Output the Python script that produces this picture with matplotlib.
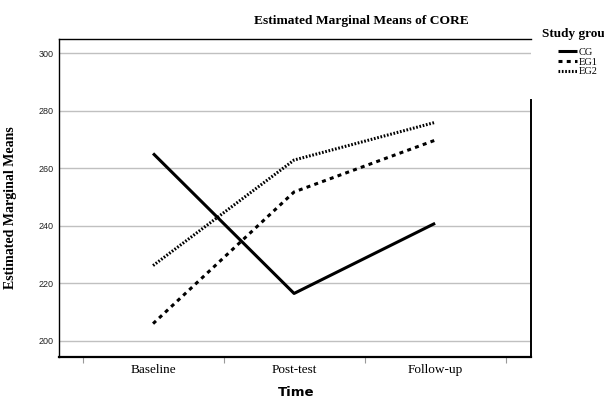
import numpy as np
import matplotlib
matplotlib.use('Agg')
import matplotlib.pyplot as plt
from matplotlib.lines import Line2D

# data
time_points = ['Baseline', 'Post-test', 'Follow-up']
cg = [265.2, 216.5, 240.9]
eg1 = [206.0, 251.8, 269.8]
eg2 = [226.2, 262.9, 276.0]
group_names = ['CG', 'EG1', 'EG2']
y_ticks = [200, 220, 240, 260, 280, 300]

serif = 'Liberation Serif'
W, H = 604, 401

fig = plt.figure(figsize=(6.04, 4.01), dpi=100)
ax = fig.add_axes([59 / W, 1 - 356.7 / H, (531 - 59) / W, (356.7 - 39) / H])

x = np.arange(len(time_points))
styles = [
    dict(linestyle='-', lw=2.2),
    dict(linestyle=(0, (1.3, 1.4)), lw=2.2),
    dict(linestyle=(0, (0.55, 0.55)), lw=2.2),
]
for vals, st in zip([cg, eg1, eg2], styles):
    ax.plot(x, vals, color='black', solid_capstyle='butt', dash_capstyle='butt', zorder=3, **st)

# axes limits and grid
ax.set_xlim(-0.667, 2.68)
ax.set_ylim(194.5, 305.0)
ax.set_yticks(y_ticks)
ax.set_yticklabels([str(v) for v in y_ticks], fontfamily='Liberation Sans',
                   fontsize=6.5, color='#222222')
ax.tick_params(axis='y', length=0, pad=4)
ax.yaxis.grid(True, color='#c0c0c0', lw=1)
ax.set_axisbelow(True)

ax.set_xticks(x)
ax.set_xticklabels(time_points, fontfamily=serif, fontsize=9.5)
ax.tick_params(axis='x', length=0, pad=5)
ax.set_xticks([-0.5, 0.5, 1.5, 2.5], minor=True)
ax.tick_params(axis='x', which='minor', length=4, color='#999999', width=0.8)

for s in ['left', 'top']:
    ax.spines[s].set_linewidth(1.0)
ax.spines['bottom'].set_linewidth(1.6)
ax.spines['right'].set_linewidth(1.4)
# the legend box hides the top part of the right frame
ax.spines['right'].set_bounds(194.5, 283.8)

ax.set_ylabel('Estimated Marginal Means', fontfamily=serif, fontsize=10,
              fontweight='bold')
ax.yaxis.set_label_coords(-0.088, 0.47)
fig.text(296 / W, 1 - 393 / H, 'Time', fontsize=9.5, fontweight='bold',
         ha='center', va='center')
fig.text(361 / W, 1 - 21 / H, 'Estimated Marginal Means of CORE',
         fontfamily=serif, fontsize=9.7, fontweight='bold', ha='center', va='center')

# legend (title runs off the right edge, as in the original export)
fig.text(542 / W, 1 - 34 / H, 'Study group', fontfamily=serif, fontsize=9.5,
         fontweight='bold', ha='left', va='center')
handles = [Line2D([0], [0], color='black', solid_capstyle='butt', dash_capstyle='butt', **st)
           for st in styles]
fig.legend(handles, group_names, loc='upper left', bbox_to_anchor=(558 / W, 1 - 47.5 / H),
           frameon=False, prop={'family': serif, 'size': 7.5}, handlelength=1.8,
           handletextpad=0.15, labelspacing=0.05, borderpad=0, borderaxespad=0)

fig.savefig('out.png', dpi=100)
